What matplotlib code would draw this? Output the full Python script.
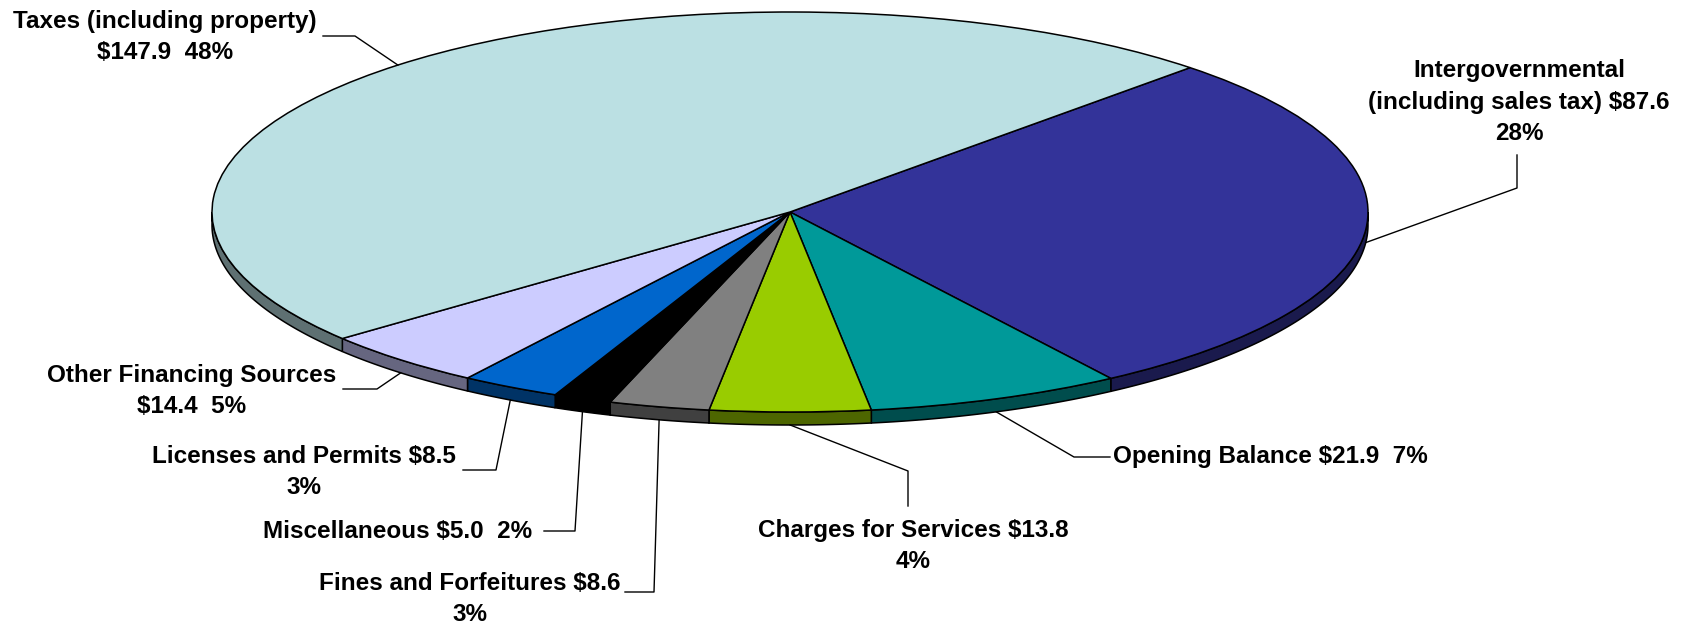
import numpy as np
import matplotlib
matplotlib.use("Agg")
import matplotlib.pyplot as plt
from matplotlib.colors import to_rgb

# revenue sources (millions), listed clockwise from the top-right boundary
categories = [
    "Intergovernmental\n(including sales tax)",
    "Opening Balance",
    "Charges for Services",
    "Fines and Forfeitures",
    "Miscellaneous",
    "Licenses and Permits",
    "Other Financing Sources",
    "Taxes (including property)",
]
values = [87.6, 21.9, 13.8, 8.6, 5.0, 8.5, 14.4, 147.9]
colors = ["#333399", "#009999", "#99CC00", "#808080",
          "#000000", "#0066CC", "#CCCCFF", "#BBE0E3"]

# how each label breaks between name / value / percent
name_sep = [" ", " ", " ", " ", " ", " ", "\n", "\n"]
pct_sep = ["\n", "  ", "\n", "\n", "  ", "\n", "  ", "  "]

# label layout in figure pixels: text anchor, horizontal align, elbow, line end
label_xy = [(1519, 102), (1113, 457), (913, 546), (470, 599),
            (398, 532), (304, 472), (192, 391), (165, 37)]
label_ha = ["center", "left", "center", "center",
            "center", "center", "center", "center"]
elbow_xy = [(1517, 188), (1074, 457), (908, 471), (654, 592),
            (575, 531), (496, 470), (377, 389), (355, 36)]
end_xy = [(1517, 155), (1110, 457), (908, 506), (625, 592),
          (544, 531), (463, 470), (343, 389), (323, 36)]

W, H = 1689, 625
CX, CY = 790, 212      # pie centre (px)
RA, RB = 578, 200      # ellipse half axes (px)
DEPTH = 13 / RB        # side wall thickness in data units
START = 46.2

plt.rcParams["font.family"] = ["Liberation Sans", "DejaVu Sans"]

fig = plt.figure(figsize=(W / 100, H / 100), dpi=100)
ax = fig.add_axes([0, 0, 1, 1])

wedges, _ = ax.pie(values, colors=colors, startangle=START, counterclock=False,
                   radius=1, wedgeprops=dict(edgecolor="black", linewidth=1.1))
for w in wedges:
    w.set_zorder(3)

x0 = -CX / RA
x1 = x0 + W / RA
y1 = CY / RB
y0 = y1 - H / RB
ax.set_aspect("auto")
ax.set_xlim(x0, x1)
ax.set_ylim(y0, y1)
ax.axis("off")


def px(p):
    return (x0 + p[0] / W * (x1 - x0), y1 - p[1] / H * (y1 - y0))


def darker(c, f=0.5):
    r, g, b = to_rgb(c)
    return (r * f, g * f, b * f)


# side walls for the front half of the pie
for w, c in zip(wedges, colors):
    t1, t2 = sorted((w.theta1, w.theta2))
    # front half spans 180..360 degrees (mod 360)
    for lo, hi in [(180, 360), (-180, 0), (540, 720)]:
        a, b = max(t1, lo), min(t2, hi)
        if b <= a:
            continue
        t = np.radians(np.linspace(a, b, 100))
        xs = np.concatenate([np.cos(t), np.cos(t[::-1])])
        ys = np.concatenate([np.sin(t), np.sin(t[::-1]) - DEPTH])
        ax.fill(xs, ys, facecolor=darker(c), edgecolor="black",
                linewidth=1.1, zorder=2)

total = sum(values)
for i, w in enumerate(wedges):
    mid = np.radians((w.theta1 + w.theta2) / 2)
    ax_pt = (np.cos(mid), np.sin(mid) - (DEPTH if np.sin(mid) < 0 else 0))
    ex, ey = px(elbow_xy[i])
    nx, ny = px(end_xy[i])
    ax.plot([ax_pt[0], ex, nx], [ax_pt[1], ey, ny], color="black",
            linewidth=1.0, zorder=4)
    pct = round(values[i] / total * 100)
    txt = f"{categories[i]}{name_sep[i]}${values[i]:.1f}{pct_sep[i]}{pct}%"
    tx, ty = px(label_xy[i])
    ax.text(tx, ty, txt, ha=label_ha[i], va="center", multialignment="center",
            fontsize=17.5, fontweight="bold", linespacing=1.45, zorder=5)

fig.savefig("out.png", dpi=100)
